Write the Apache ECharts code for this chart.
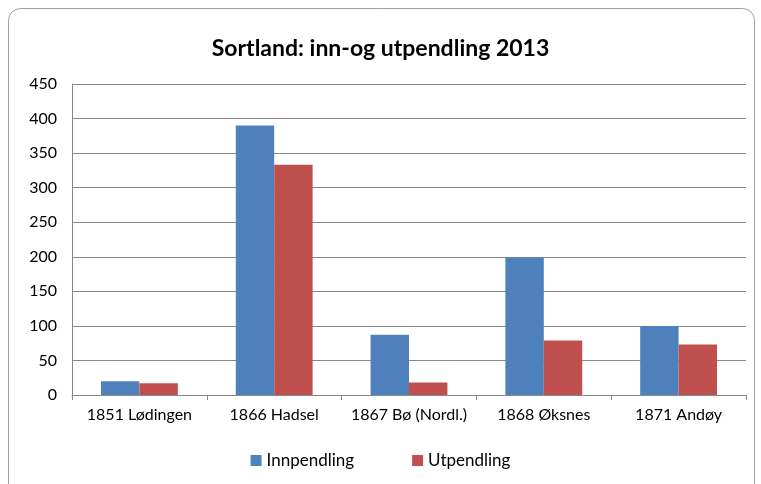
<!DOCTYPE html>
<html><head><meta charset="utf-8">
<script src="https://cdn.jsdelivr.net/npm/echarts@6/dist/echarts.min.js"></script>
<style>html,body{margin:0;padding:0;background:#fff}#c{width:761px;height:484px}</style>
</head><body><div id="c"></div>
<script>
const categories = ['1851 Lødingen', '1866 Hadsel', '1867 Bø (Nordl.)', '1868 Øksnes', '1871 Andøy'];
const innpendling = [20, 390, 87, 199, 100];
const utpendling = [17, 333, 18, 79, 73];
const seriesNames = ['Innpendling', 'Utpendling'];
const titleText = 'Sortland: inn-og utpendling 2013';

const chart = echarts.init(document.getElementById('c'), null, {renderer: 'canvas'});
const font = 'Lato, "Open Sans", sans-serif';
chart.setOption({
  animation: false,
  backgroundColor: '#fff',
  graphic: [{
    type: 'rect', left: 8, top: 8, z: -10,
    shape: {width: 746, height: 490, r: 12},
    style: {fill: '#fff', stroke: '#a0a0a0', lineWidth: 1}
  }],
  title: {
    text: titleText, left: 'center', top: 32,
    textStyle: {fontFamily: font, fontSize: 23, fontWeight: 'bold', color: '#000'}
  },
  legend: {
    data: seriesNames, bottom: 10, left: 'center', itemGap: 58,
    itemWidth: 11, itemHeight: 11, icon: 'rect',
    textStyle: {fontFamily: font, fontSize: 17, color: '#000'}
  },
  grid: {left: 72, right: 15, top: 84, bottom: 89, containLabel: false},
  xAxis: {
    type: 'category', data: categories,
    axisLine: {lineStyle: {color: '#888'}},
    axisTick: {show: true, length: 5, alignWithLabel: false, lineStyle: {color: '#888'}},
    axisLabel: {fontFamily: font, fontSize: 16, color: '#000', margin: 12, interval: 0}
  },
  yAxis: {
    type: 'value', min: 0, max: 450, interval: 50,
    axisLine: {show: true, lineStyle: {color: '#888'}},
    axisTick: {show: false},
    splitLine: {lineStyle: {color: '#8a8a8a'}},
    axisLabel: {fontFamily: font, fontSize: 16, color: '#000', margin: 15}
  },
  series: [
    {name: seriesNames[0], type: 'bar', data: innpendling, barGap: '0%', barCategoryGap: '43%',
     itemStyle: {color: '#4F81BD'}},
    {name: seriesNames[1], type: 'bar', data: utpendling,
     itemStyle: {color: '#C0504D'}}
  ]
});
</script></body></html>
